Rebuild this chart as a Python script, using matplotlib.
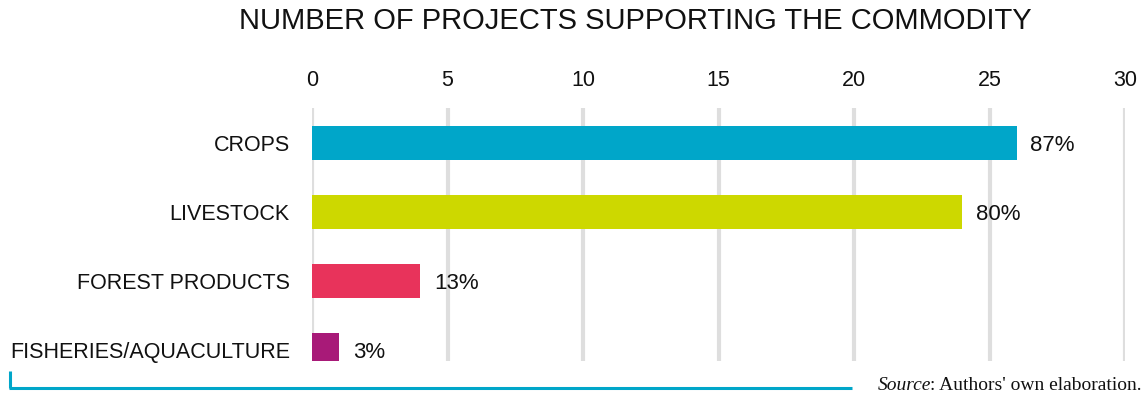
import matplotlib
matplotlib.use("Agg")
import matplotlib.pyplot as plt
from matplotlib.lines import Line2D

plt.rcParams['font.family'] = ['Liberation Sans', 'DejaVu Sans']

categories = ["CROPS", "LIVESTOCK", "FOREST PRODUCTS", "FISHERIES/AQUACULTURE"]
projects = [26, 24, 4, 1]
shares = ["87%", "80%", "13%", "3%"]
colors = ["#00A6C9", "#CDD800", "#E8335B", "#A81A78"]
ticks = [0, 5, 10, 15, 20, 25, 30]

W, H = 1146, 396
fig = plt.figure(figsize=(W / 100, H / 100), dpi=100)
ax = fig.add_axes([312 / W, 1 - 361 / H, (1125 - 312) / W, (361 - 108) / H])

ypos = list(range(len(categories)))
ax.barh(ypos, projects, height=0.5, color=colors, zorder=3)
for y, v, s in zip(ypos, projects, shares):
    ax.text(v + 0.5, y + 0.04, s, va="center", ha="left", fontsize=16, color="#111111")

ax.set_xlim(0, 30)
ax.set_ylim(3.16, -0.51)
ax.set_xticks(ticks)
ax.set_xticklabels([str(t) for t in ticks], fontsize=15.5, color="#111111")
ax.xaxis.tick_top()
ax.tick_params(axis="x", length=0, pad=12)
ax.set_yticks(ypos)
ax.set_yticklabels(categories, fontsize=15.5, color="#111111")
ax.tick_params(axis="y", length=0, pad=16)
ax.grid(axis="x", color="#DEDEDE", linewidth=3, zorder=0)
for sp in ax.spines.values():
    sp.set_visible(False)

fig.text(635 / W, 1 - 21 / H, "NUMBER OF PROJECTS SUPPORTING THE COMMODITY",
         ha="center", va="center", fontsize=21, color="#111111")

# footer rule
line_col = "#00A6C9"
fig.add_artist(Line2D([10 / W, 10 / W], [1 - 371 / H, 1 - 388 / H], color=line_col, lw=2.2,
                      transform=fig.transFigure, solid_capstyle="butt"))
fig.add_artist(Line2D([9 / W, 852 / W], [1 - 388 / H, 1 - 388 / H], color=line_col, lw=2.2,
                      transform=fig.transFigure, solid_capstyle="butt"))

rest = fig.text(1141 / W, 1 - 385 / H, ": Authors' own elaboration.", ha="right", va="center",
                fontsize=14, family="Liberation Serif", color="#111111")
fig.canvas.draw()
bb = rest.get_window_extent()
fig.text((bb.x0 + 2) / W, 1 - 385 / H, "Source", ha="right", va="center", fontsize=14,
         family="Liberation Serif", style="italic", color="#111111")

fig.savefig("out.png", dpi=100)
